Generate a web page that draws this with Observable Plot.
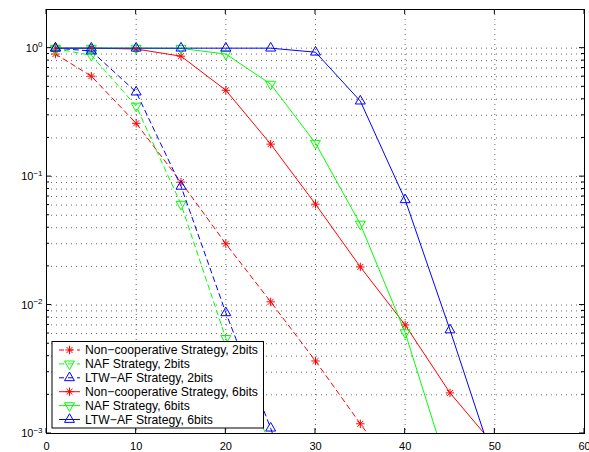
<!DOCTYPE html>
<html><head><meta charset="utf-8">
<script src="https://cdn.jsdelivr.net/npm/d3@7"></script>
<script src="https://cdn.jsdelivr.net/npm/@observablehq/plot@0.6"></script>
<style>
html,body{margin:0;padding:0;background:#fff;}
#chart{position:relative;width:589px;height:452px;overflow:hidden;}
</style>
</head><body><div id="chart"></div>
<script>
// ---- data ----
const snr = [1, 5, 10, 15, 20, 25, 30, 35, 40, 45, 50];
const nonCoop2 = [0.90, 0.605, 0.26, 0.0906, 0.030, 0.0106, 0.00367, 0.00119, 0.0004];
const naf2     = [0.99, 0.88, 0.354, 0.061, 0.0055, 0.0008];
const ltw2     = [1.0, 0.95, 0.455, 0.084, 0.0087, 0.0011, 0.0001];
const nonCoop6 = [1, 1, 0.985, 0.866, 0.47, 0.179, 0.061, 0.0198, 0.0070, 0.00207, 0.0008];
const naf6     = [1, 1, 1, 0.995, 0.90, 0.525, 0.182, 0.0427, 0.0061, 0.00047];
const ltw6     = [1, 1, 1, 1, 1, 1, 0.93, 0.387, 0.066, 0.0064, 0.00056];
const seriesNames = [
  "Non\u2212cooperative Strategy, 2bits",
  "NAF Strategy, 2bits",
  "LTW\u2212AF Strategy, 2bits",
  "Non\u2212cooperative Strategy, 6bits",
  "NAF Strategy, 6bits",
  "LTW\u2212AF Strategy, 6bits"
];
const seriesValues = [nonCoop2, naf2, ltw2, nonCoop6, naf6, ltw6];
const xTicks = [0, 10, 20, 30, 40, 50, 60];
const yMajor = [1e-3, 1e-2, 1e-1, 1];

// ---- styles ----
const colors = ["#ff0000", "#00ff00", "#0000ff", "#ff0000", "#00ff00", "#0000ff"];
const dashes = ["5,4", "5,4", "5,4", null, null, null];
const starSymbol = {
  draw(ctx, size) {
    const r = Math.sqrt(size / Math.PI), d = r * Math.SQRT1_2;
    ctx.moveTo(-r, 0); ctx.lineTo(r, 0);
    ctx.moveTo(0, -r); ctx.lineTo(0, r);
    ctx.moveTo(-d, -d); ctx.lineTo(d, d);
    ctx.moveTo(-d, d); ctx.lineTo(d, -d);
  }
};
const triUp = {
  draw(ctx, size) {
    const y = -Math.sqrt(size / (Math.sqrt(3) * 3)), s3 = Math.sqrt(3);
    ctx.moveTo(0, y * 2); ctx.lineTo(-s3 * y, -y); ctx.lineTo(s3 * y, -y); ctx.closePath();
  }
};
const triDown = {
  draw(ctx, size) {
    const y = -Math.sqrt(size / (Math.sqrt(3) * 3)), s3 = Math.sqrt(3);
    ctx.moveTo(0, -y * 2); ctx.lineTo(-s3 * y, y); ctx.lineTo(s3 * y, y); ctx.closePath();
  }
};
const symbols = [starSymbol, triDown, triUp, starSymbol, triDown, triUp];
const radii = [4.2, 3.7, 3.7, 4.2, 3.7, 3.7];

const series = seriesValues.map((vals, i) => vals.map((v, j) => ({x: snr[j], y: v, s: i})));

const minorTicks = [];
for (const p of [-3, -2, -1]) for (let k = 1; k <= 9; k++) minorTicks.push(k * Math.pow(10, p));
minorTicks.push(1);

const marks = [
  Plot.ruleY(minorTicks, {stroke: "#000", strokeOpacity: 0.6, strokeDasharray: "1,4", strokeWidth: 1}),
  Plot.ruleX(xTicks.slice(1, -1), {stroke: "#000", strokeOpacity: 0.6, strokeDasharray: "1,4", strokeWidth: 1})
];
series.forEach((d, i) => {
  marks.push(Plot.line(d, {x: "x", y: "y", stroke: colors[i], strokeWidth: 1, strokeDasharray: dashes[i], clip: true}));
  marks.push(Plot.dot(d, {x: "x", y: "y", symbol: symbols[i], r: radii[i], stroke: colors[i], fill: "none", strokeWidth: 1, clip: true}));
});
marks.push(Plot.frame({stroke: "#000", strokeWidth: 1}));

const chart = Plot.plot({
  width: 589, height: 452,
  marginLeft: 46, marginRight: 5, marginTop: 9, marginBottom: 19,
  style: {fontFamily: "'Liberation Sans', Arial, sans-serif", fontSize: "11px", background: "#fff", color: "#000"},
  x: {domain: [0, 60], ticks: xTicks, tickSize: 0, tickPadding: 9, label: null},
  y: {type: "log", domain: [0.001, 2], ticks: yMajor, tickSize: 0, tickPadding: 4, label: null,
      tickFormat: d => String(Math.round(Math.log10(d)))},
  marks
});
document.getElementById("chart").appendChild(chart);

// ---- superscript tick labels ----
const svg = d3.select(chart);
svg.selectAll('g[aria-label="y-axis tick label"] text').each(function () {
  const e = this.textContent.replace("-", "\u2212");
  const t = d3.select(this);
  t.text("10");
  t.append("tspan").attr("dy", "-0.55em").attr("font-size", "8px").text(e);
});

// ---- inward ticks (MATLAB style) ----
const xs = chart.scale("x"), ys = chart.scale("y");
const x0 = xs.apply(0), x1 = xs.apply(60), yT = ys.apply(2), yB = ys.apply(0.001);
const tg = svg.append("g").attr("stroke", "#000").attr("stroke-width", 1);
xTicks.forEach(v => {
  const px = xs.apply(v);
  tg.append("line").attr("x1", px).attr("x2", px).attr("y1", yB).attr("y2", yB - 5);
  tg.append("line").attr("x1", px).attr("x2", px).attr("y1", yT).attr("y2", yT + 5);
});
minorTicks.forEach(v => {
  const py = ys.apply(v), len = yMajor.includes(v) ? 5 : 3;
  tg.append("line").attr("x1", x0).attr("x2", x0 + len).attr("y1", py).attr("y2", py);
  tg.append("line").attr("x1", x1).attr("x2", x1 - len).attr("y1", py).attr("y2", py);
});

// ---- legend ----
const lg = svg.append("g").attr("font-family", "'Liberation Sans', Arial, sans-serif")
  .attr("font-size", 12.2).attr("text-anchor", "start");
const lx = x0 + 6, ly = 341.5, lw = 211.5, lh = 86.5;
lg.append("rect").attr("x", lx).attr("y", ly).attr("width", lw).attr("height", lh)
  .attr("fill", "#fff").attr("stroke", "#000").attr("stroke-width", 1);
seriesNames.forEach((name, i) => {
  const ry = ly + 8.5 + i * 13.9;
  lg.append("line").attr("x1", lx + 7).attr("x2", lx + 28).attr("y1", ry).attr("y2", ry)
    .attr("stroke", colors[i]).attr("stroke-width", 1).attr("stroke-dasharray", dashes[i]);
  lg.append("path").attr("transform", `translate(${lx + 17.5},${ry})`)
    .attr("d", d3.symbol(symbols[i], radii[i] * radii[i] * Math.PI)())
    .attr("fill", "none").attr("stroke", colors[i]).attr("stroke-width", 1);
  lg.append("text").attr("x", lx + 33).attr("y", ry).attr("dy", "0.35em")
    .attr("text-anchor", "start").attr("fill", "#000").text(name);
});
</script>
</body></html>
